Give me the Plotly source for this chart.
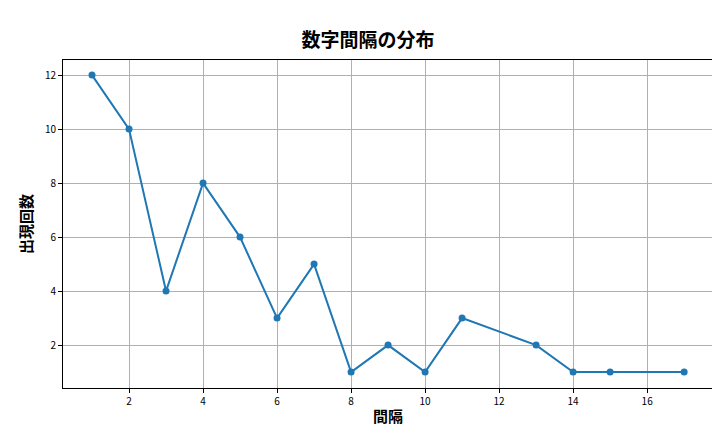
import plotly.graph_objects as go

gaps = [1, 2, 3, 4, 5, 6, 7, 8, 9, 10, 11, 13, 14, 15, 17]
counts = [12, 10, 4, 8, 6, 3, 5, 1, 2, 1, 3, 2, 1, 1, 1]

fig = go.Figure(go.Scatter(x=gaps, y=counts, mode="lines+markers",
                           line=dict(color="#1f77b4", width=2),
                           marker=dict(color="#1f77b4", size=7)))
font = "Noto Sans CJK JP"
ax = dict(showgrid=True, gridcolor="#b0b0b0", gridwidth=1, showline=True, linecolor="black",
          mirror=True, ticks="outside", ticklen=4, tickcolor="black", zeroline=False,
          automargin=False, tickfont=dict(size=10, color="black", family=font))
fig.update_layout(
    width=720, height=432, plot_bgcolor="white", paper_bgcolor="white",
    margin=dict(l=55, r=15, t=52, b=52), showlegend=False,
    font=dict(family=font, color="black"),
    title=dict(text="<b>数字間隔の分布</b>", x=0.5, xanchor="center", y=0.94,
               automargin=False, font=dict(size=19)),
    xaxis=dict(ax, range=[0.216, 17.78], tickvals=[2, 4, 6, 8, 10, 12, 14, 16],
               title=dict(text="<b>間隔</b>", font=dict(size=15), standoff=4)),
    yaxis=dict(ax, range=[0.41, 12.56], tickvals=[2, 4, 6, 8, 10, 12],
               title=dict(text="<b>出現回数</b>", font=dict(size=15), standoff=8)),
)
fig.write_html("out.html")
